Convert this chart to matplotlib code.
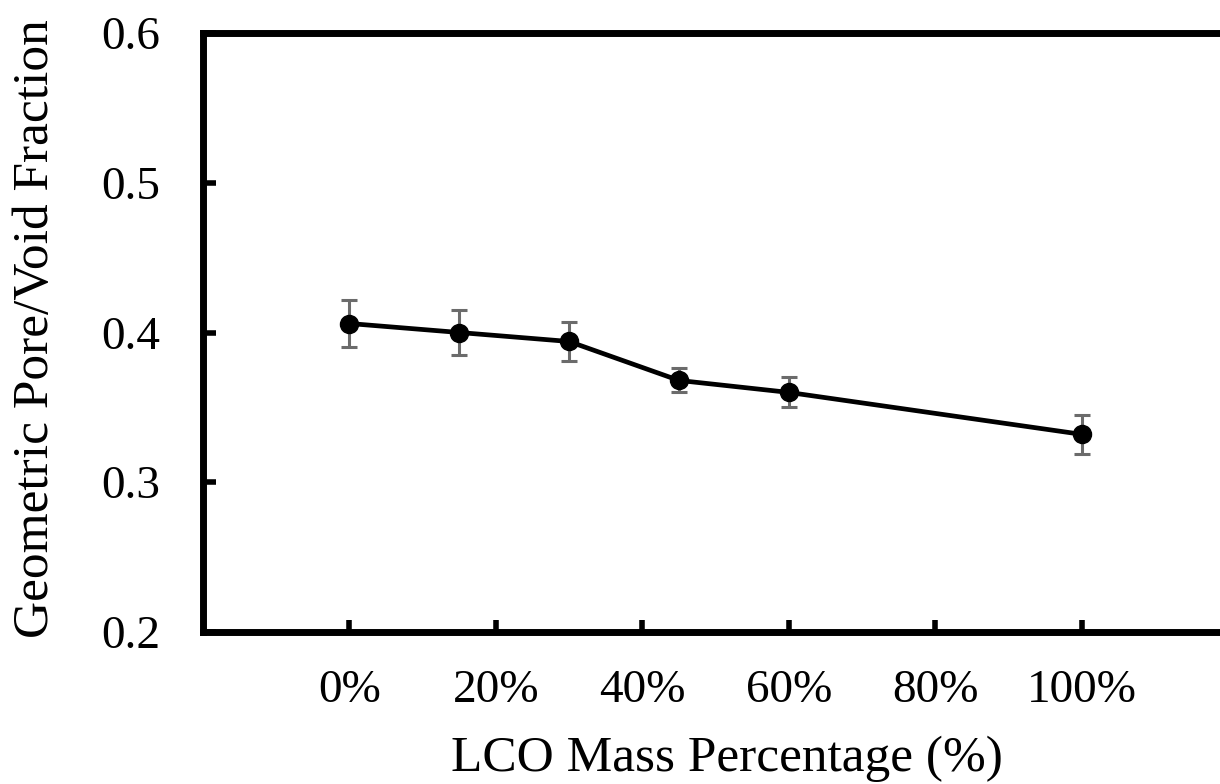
import matplotlib
matplotlib.use("Agg")
import matplotlib.pyplot as plt

plt.rcParams["font.family"] = ["Liberation Serif", "DejaVu Serif"]

# LCO 质量分数 vs 孔隙率
lco_pct = [0, 15, 30, 45, 60, 100]
void_frac = [0.406, 0.400, 0.394, 0.368, 0.360, 0.332]
void_err = [0.016, 0.015, 0.013, 0.008, 0.010, 0.013]
x_ticks = [0, 20, 40, 60, 80, 100]
x_labels = ["0%", "20%", "40%", "60%", "80%", "100%"]
y_ticks = [0.2, 0.3, 0.4, 0.5, 0.6]

fig = plt.figure(figsize=(12.2, 7.84), dpi=100)
ax = fig.add_axes([203 / 1220, 1 - 632 / 784, (1228 - 203) / 1220, (632 - 33) / 784])

ax.errorbar(lco_pct, void_frac, yerr=void_err, fmt="none", ecolor="#6b6b6b",
            elinewidth=2.2, capsize=6, capthick=2.2, zorder=2)
ax.plot(lco_pct, void_frac, color="black", lw=3.4, marker="o", ms=13, zorder=3)

ax.set_xlim(-20, 120)
ax.set_ylim(0.2, 0.6)
ax.set_xticks(x_ticks)
ax.set_xticklabels(x_labels)
ax.set_yticks(y_ticks)
ax.set_yticklabels([f"{v:.1f}" for v in y_ticks])
ax.tick_params(direction="in", length=9, width=4, labelsize=34)
ax.tick_params(axis="x", pad=27)
ax.tick_params(axis="y", pad=31)
for s in ax.spines.values():
    s.set_linewidth(5)

ax.set_xlabel("LCO Mass Percentage (%)", fontsize=37)
ax.xaxis.set_label_coords(0.511, -0.172)
ax.set_ylabel("Geometric Pore/Void Fraction", fontsize=37, va="center")
ax.yaxis.set_label_coords(-0.163, 0.506)

fig.savefig("out.png", dpi=100)
